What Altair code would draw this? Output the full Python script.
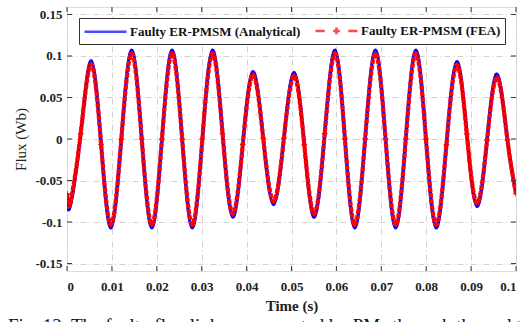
import altair as alt
import pandas as pd

# ---------------- data ----------------
time_s = [0.0, 0.0007, 0.00305, 0.0054, 0.0076, 0.0098, 0.0121, 0.0144, 0.01665,
          0.0189, 0.02115, 0.0234, 0.02565, 0.0279, 0.03015, 0.0324, 0.03465,
          0.0369, 0.03915, 0.0414, 0.0437, 0.0460, 0.0483, 0.0506, 0.05285,
          0.0551, 0.0574, 0.0597, 0.0619, 0.0641, 0.0664, 0.0687, 0.07095,
          0.0732, 0.07545, 0.0777, 0.07995, 0.0822, 0.0845, 0.0868, 0.08905,
          0.0913, 0.09355, 0.0958, 0.0981, 0.1]

flux_analytical = [-0.066, -0.081, 0.0065, 0.094, -0.0065, -0.107, 0.0, 0.107, 0.0,
                   -0.107, 0.0, 0.107, 0.0, -0.107, 0.0, 0.107, 0.0065,
                   -0.094, -0.0065, 0.081, 0.001, -0.079, 0.0005, 0.080, -0.007,
                   -0.094, 0.0065, 0.107, 0.0, -0.107, 0.0, 0.107, 0.0,
                   -0.107, 0.0, 0.107, 0.0, -0.107, -0.007, 0.093, 0.006,
                   -0.081, -0.0015, 0.078, -0.0015, -0.066]

flux_fea = [-0.066, -0.077, 0.0065, 0.090, -0.0065, -0.103, 0.0, 0.103, 0.0,
            -0.103, 0.0, 0.103, 0.0, -0.103, 0.0, 0.103, 0.0065,
            -0.090, -0.0065, 0.077, 0.001, -0.075, 0.0005, 0.076, -0.007,
            -0.090, 0.0065, 0.103, 0.0, -0.103, 0.0, 0.103, 0.0,
            -0.103, 0.0, 0.103, 0.0, -0.103, -0.007, 0.089, 0.006,
            -0.077, -0.0015, 0.074, -0.0015, -0.066]

series_names = ["Faulty ER-PMSM (Analytical)", "Faulty ER-PMSM (FEA)"]
x_ticks = [0, 0.01, 0.02, 0.03, 0.04, 0.05, 0.06, 0.07, 0.08, 0.09, 0.1]
y_ticks = [-0.15, -0.1, -0.05, 0, 0.05, 0.1, 0.15]
caption = "Fig. 12.  The faulty flux linkage generated by PMs through the end turn"

# ---------------- chart ----------------
W, H = 449, 264
FONT = "Liberation Serif"
BLUE, RED = "#0000ff", "#ff0000"
FRAME = "#3a3a3a"

df = pd.DataFrame({"time": time_s, "analytical": flux_analytical, "fea": flux_fea})
xt = pd.DataFrame({"time": x_ticks})
yt = pd.DataFrame({"flux": y_ticks})
lg = pd.DataFrame({"series": series_names})

label_expr = "datum.value < 0 ? '-' + format(-datum.value, '~g') : format(datum.value, '~g')"
xscale = alt.Scale(domain=[0, 0.1], nice=False, zero=False)
yscale = alt.Scale(domain=[-0.159, 0.159], nice=False, zero=False)

xaxis = alt.Axis(values=x_ticks, labelExpr=label_expr, grid=True, ticks=False, domain=False,
                 labelFont=FONT, labelFontSize=13, labelFontWeight="bold", labelColor="#222",
                 labelPadding=9, titleFont=FONT, titleFontSize=15, titleFontWeight="bold",
                 titleColor="#222", titlePadding=5,
                 gridColor="#d2d2d2", gridDash=[6, 3, 1, 3], gridWidth=1)
yaxis = alt.Axis(values=y_ticks, labelExpr=label_expr, grid=True, ticks=False, domain=False,
                 labelFont=FONT, labelFontSize=13, labelFontWeight="bold", labelColor="#222",
                 labelPadding=5, titleFont=FONT, titleFontSize=15, titleFontWeight="normal",
                 titleColor="#222", titlePadding=6,
                 gridColor="#d2d2d2", gridDash=[6, 3, 1, 3], gridWidth=1)

X = alt.X("time:Q", scale=xscale, axis=xaxis, title="Time (s)")
def Y(field):
    return alt.Y(field, type="quantitative", scale=yscale, axis=yaxis, title="Flux (Wb)")

blue_line = alt.Chart(df).mark_line(color=BLUE, strokeWidth=3.4, interpolate="natural", clip=True).encode(
    x=X, y=Y("analytical"))

red_line = alt.Chart(df).mark_line(color=RED, strokeWidth=4.2, strokeDash=[5, 1],
                                   interpolate="natural", clip=True).encode(
    x=X, y=Y("fea"))

plus_path = "M-1,0L1,0M0,-1L0,1"
red_pts = alt.Chart(df).mark_point(shape=plus_path, color=RED, filled=False, size=30,
                                   strokeWidth=1.5, opacity=1, clip=True).encode(
    x=X, y=Y("fea"))

tick_style = dict(color=FRAME, strokeWidth=1)
xt_bottom = alt.Chart(xt).mark_rule(**tick_style).encode(
    x=X, y=alt.value(H), y2=alt.value(H - 5))
xt_top = alt.Chart(xt).mark_rule(**tick_style).encode(
    x=X, y=alt.value(0), y2=alt.value(5))
yt_left = alt.Chart(yt).mark_rule(**tick_style).encode(
    y=Y("flux"), x=alt.value(0), x2=alt.value(5))
yt_right = alt.Chart(yt).mark_rule(**tick_style).encode(
    y=Y("flux"), x=alt.value(W), x2=alt.value(W - 5))

# legend symbols: path spans 6 units, scaled by sqrt(size)/2 = 7 px -> 42 px wide
line_sym = "M-1,0L5,0"
fea_sym = "M-1,0L0.32,0M1.52,0L2.48,0M2,-0.48L2,0.48M3.68,0L5,0"
legend = alt.Legend(title=None, orient="none", legendX=12, legendY=11, direction="horizontal",
                    strokeColor="#333", fillColor="white", padding=4, symbolSize=196,
                    symbolStrokeWidth=2.6, labelFont=FONT, labelFontSize=13,
                    labelFontWeight="bold", labelColor="#111", labelOffset=30,
                    columnPadding=9, labelLimit=400, cornerRadius=0)
legend_layer = alt.Chart(lg).mark_point(filled=False, clip=True, strokeWidth=2.6).encode(
    x=alt.value(-200), y=alt.value(-200),
    color=alt.Color("series:N", scale=alt.Scale(domain=series_names, range=[BLUE, RED]), legend=legend),
    shape=alt.Shape("series:N", scale=alt.Scale(domain=series_names, range=[line_sym, fea_sym]), legend=legend),
)

chart = alt.layer(
    blue_line, red_line, red_pts, xt_bottom, xt_top, yt_left, yt_right, legend_layer
).properties(
    width=W, height=H,
    padding={"left": 67, "top": 7, "right": 14, "bottom": 51},
    autosize=alt.AutoSizeParams(type="none"),
    title=alt.TitleParams(caption, orient="bottom", anchor="start", frame="group", font=FONT,
                          fontSize=19, fontWeight="normal", color="#111", baseline="top",
                          offset=3.5, dx=-59),
).configure_view(stroke=FRAME, strokeWidth=1).configure(background="white")

chart.save("out.html", embed_options={"renderer": "svg", "actions": False})
